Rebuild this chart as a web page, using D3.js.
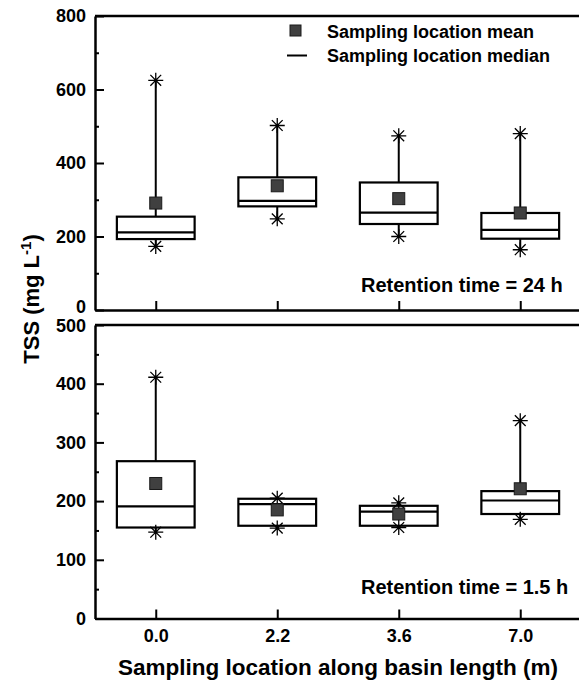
<!DOCTYPE html>
<html>
<head>
<meta charset="utf-8">
<script src="https://cdn.jsdelivr.net/npm/d3@7"></script>
<style>
    body { margin: 0; background: #fff; }
    svg { display: block; font-family: "Liberation Sans", Arial, sans-serif; font-weight: bold; }
    .axis path, .axis line { stroke: #000; }
    .axis text { font-size: 18px; font-weight: bold; fill: #000; font-family: "Liberation Sans", Arial, sans-serif; }
</style>
</head>
<body>
<script>
// sampling locations (m)
const locations = ["0.0", "2.2", "3.6", "7.0"];

// retention time = 24 h
const max24 = [625, 502, 474, 480];
const q3_24 = [254, 361, 347, 264];
const median24 = [211, 297, 265, 218];
const q1_24 = [193, 282, 234, 194];
const min24 = [173, 248, 200, 164];
const mean24 = [291, 338, 303, 264];

// retention time = 1.5 h
const max15 = [411, 205, 197, 337];
const q3_15 = [268, 204, 192, 217];
const median15 = [191, 195, 182, 201];
const q1_15 = [155, 158, 158, 178];
const min15 = [147, 154, 155, 169];
const mean15 = [230, 185, 178, 221];

const ticks24 = [0, 200, 400, 600, 800];
const minor24 = [100, 300, 500, 700];
const ticks15 = [0, 100, 200, 300, 400, 500];
const minor15 = [50, 150, 250, 350, 450];

const width = 579, height = 681;
const left = 95, right = 581;

let svg = d3.select("body").append("svg")
    .attr("width", width)
    .attr("height", height);

let x = d3.scalePoint().domain(locations).range([left, right]).padding(0.5);
let boxW = x.step() * 0.64;

function rows(mx, q3, md, q1, mn, mean) {
    return locations.map((loc, i) => ({
        loc: loc, max: mx[i], q3: q3[i], median: md[i], q1: q1[i], min: mn[i], mean: mean[i]
    }));
}

let panels = [
    { data: rows(max24, q3_24, median24, q1_24, min24, mean24), top: 16, bottom: 310,
      ticks: ticks24, minor: minor24, label: "Retention time = 24 h", labelY: 292, showX: false },
    { data: rows(max15, q3_15, median15, q1_15, min15, mean15), top: 325, bottom: 618.5,
      ticks: ticks15, minor: minor15, label: "Retention time = 1.5 h", labelY: 594, showX: true }
];

// 8-pointed asterisk
function asterisk(r) {
    let d = r * 0.72;
    return `M0,${-r}V${r}M${-r},0H${r}M${-d},${-d}L${d},${d}M${-d},${d}L${d},${-d}`;
}

panels.forEach((p, pi) => {
    let y = d3.scaleLinear()
        .domain([0, d3.max(p.ticks)])
        .range([p.bottom, p.top]);

    let g = svg.append("g");

    // top frame line
    g.append("line")
        .attr("x1", left).attr("x2", right)
        .attr("y1", y(d3.max(p.ticks))).attr("y2", y(d3.max(p.ticks)))
        .attr("stroke", "#000").attr("stroke-width", 2.5);

    // minor y ticks
    g.append("g")
        .attr("class", "axis")
        .attr("transform", `translate(${left},0)`)
        .call(d3.axisLeft(y).tickValues(p.minor).tickSize(-4).tickFormat(""))
        .call(a => a.select(".domain").remove())
        .selectAll("line").attr("stroke-width", 2);

    // major y axis
    let ya = g.append("g")
        .attr("class", "axis")
        .attr("transform", `translate(${left},0)`)
        .call(d3.axisLeft(y).tickValues(p.ticks).tickSizeInner(-9).tickSizeOuter(0).tickPadding(9));
    ya.select(".domain").attr("stroke-width", 2.5);
    ya.selectAll("line").attr("stroke-width", 2);
    // keep the two stacked labels (0 / 500) apart
    ya.selectAll(".tick text").filter(d => d === 0 && pi === 0).attr("y", -3);
    ya.selectAll(".tick text").filter(d => d === 500 && pi === 1).attr("y", 1);

    // x axis
    let xa = g.append("g")
        .attr("class", "axis")
        .attr("transform", `translate(0,${p.bottom})`)
        .call(d3.axisBottom(x).tickSizeInner(-9).tickSizeOuter(0).tickPadding(11)
            .tickFormat(p.showX ? d => d : ""));
    xa.select(".domain").attr("stroke-width", 2.5);
    xa.selectAll("line").attr("stroke-width", 2);

    let box = g.selectAll(".box")
        .data(p.data)
        .enter().append("g")
        .attr("class", "box");

    // whiskers
    box.append("line")
        .attr("x1", d => x(d.loc)).attr("x2", d => x(d.loc))
        .attr("y1", d => y(d.min)).attr("y2", d => y(d.max))
        .attr("stroke", "#000").attr("stroke-width", 2);

    // interquartile box
    box.append("rect")
        .attr("x", d => x(d.loc) - boxW / 2)
        .attr("width", boxW)
        .attr("y", d => y(d.q3))
        .attr("height", d => y(d.q1) - y(d.q3))
        .attr("fill", "#fff")
        .attr("stroke", "#000").attr("stroke-width", 2.2);

    // median
    box.append("line")
        .attr("x1", d => x(d.loc) - boxW / 2).attr("x2", d => x(d.loc) + boxW / 2)
        .attr("y1", d => y(d.median)).attr("y2", d => y(d.median))
        .attr("stroke", "#000").attr("stroke-width", 2.2);

    // min / max asterisks
    ["min", "max"].forEach(k => {
        box.append("path")
            .attr("d", asterisk(7.5))
            .attr("transform", d => `translate(${x(d.loc)},${y(d[k])})`)
            .attr("stroke", "#000").attr("stroke-width", 1.3).attr("fill", "none");
    });

    // mean
    box.append("rect")
        .attr("x", d => x(d.loc) - 6)
        .attr("y", d => y(d.mean) - 6)
        .attr("width", 12).attr("height", 12)
        .attr("fill", "#404040")
        .attr("stroke", "#1a1a1a").attr("stroke-width", 1);

    // panel label
    g.append("text")
        .attr("x", 361)
        .attr("y", p.labelY)
        .style("font-size", "20px")
        .text(p.label);
});

// legend
let legend = svg.append("g").attr("class", "legend");
legend.append("rect")
    .attr("x", 290).attr("y", 25).attr("width", 11).attr("height", 11)
    .attr("fill", "#404040").attr("stroke", "#1a1a1a").attr("stroke-width", 1);
legend.append("text")
    .attr("x", 327).attr("y", 38)
    .style("font-size", "18px")
    .text("Sampling location mean");
legend.append("line")
    .attr("x1", 287).attr("x2", 307).attr("y1", 55.5).attr("y2", 55.5)
    .attr("stroke", "#000").attr("stroke-width", 2);
legend.append("text")
    .attr("x", 327).attr("y", 61.5)
    .style("font-size", "18px")
    .text("Sampling location median");

// axis titles
svg.append("text")
    .attr("x", 338)
    .attr("y", 675)
    .attr("text-anchor", "middle")
    .style("font-size", "22.5px")
    .text("Sampling location along basin length (m)");

let yt = svg.append("text")
    .attr("transform", "translate(38.5,299) rotate(-90)")
    .attr("text-anchor", "middle")
    .style("font-size", "22px");
yt.append("tspan").text("TSS (mg L");
yt.append("tspan").attr("dy", -8).style("font-size", "15px").text("-1");
yt.append("tspan").attr("dy", 8).text(")");
</script>
</body>
</html>
